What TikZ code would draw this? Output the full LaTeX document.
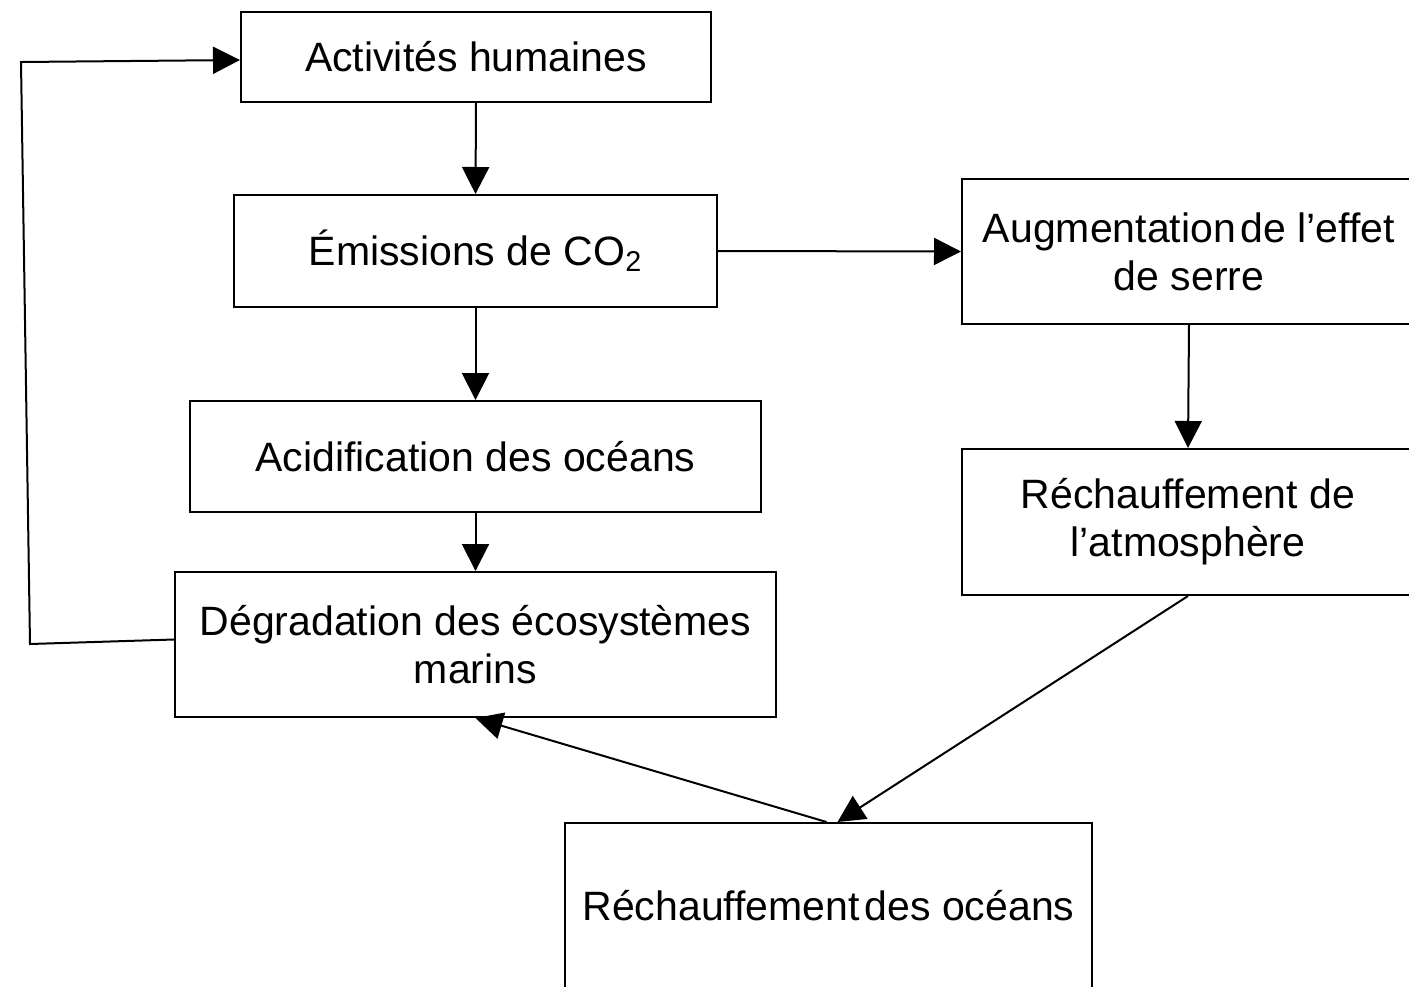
\documentclass[tikz,border=0pt]{standalone}
\usepackage{fontspec}
\setmainfont{Liberation Sans}
\usetikzlibrary{arrows.meta}
\begin{document}
\begin{tikzpicture}[x=0.5pt,y=-0.5pt,
  box/.style={draw=black,line width=1pt,inner sep=0pt,align=center,
    font=\fontsize{20.5pt}{24pt}\selectfont},
  conn/.style={draw=black,line width=1pt,-{Triangle[length=13.5pt,width=13.5pt]}},
  plain/.style={draw=black,line width=1pt}]
\useasboundingbox (0,0) rectangle (1409,986);
\node[box,minimum width=235pt,minimum height=45pt] (A) at (476,57) {Activités humaines};
\node[box,minimum width=241.5pt,minimum height=56pt] (B) at (475.5,251) {Émissions de CO\textsubscript{2}};
\node[box,minimum width=227pt,minimum height=72.5pt] (C) at (1189,251.5) {Augmentation\hspace{0.12em}de l’effet\\de serre};
\node[box,minimum width=285.5pt,minimum height=55.5pt] (D) at (475.5,456.5) {Acidification des océans};
\node[box,minimum width=300.5pt,minimum height=72.5pt] (E) at (475.5,644.5) {Dégradation des écosystèmes\\marins};
\node[box,minimum width=226pt,minimum height=73pt] (F) at (1188,522) {Réchauffement de\\l’atmosphère};
\node[box,minimum width=263.5pt,minimum height=86pt] (G) at (828.5,909) {\raisebox{4pt}{Réchauffement\hspace{0.12em}des océans}};
\coordinate (L1) at (30,644);
\coordinate (L2) at (21,62);
\draw[conn] (A.south) -- (B.north);
\draw[conn] (B.south) -- (D.north);
\draw[conn] (D.south) -- (E.north);
\draw[conn] (B.east) -- (C.west);
\draw[conn] (C.south) -- (F.north);
\draw[conn] (F.south) -- ([xshift=4.5pt]G.north);
\draw[conn] ([xshift=-1pt]G.north) -- (E.south);
\draw[conn] ([yshift=2.5pt]E.west) -- (L1) -- (L2) -- ([yshift=-1.5pt]A.west);
\end{tikzpicture}
\end{document}
